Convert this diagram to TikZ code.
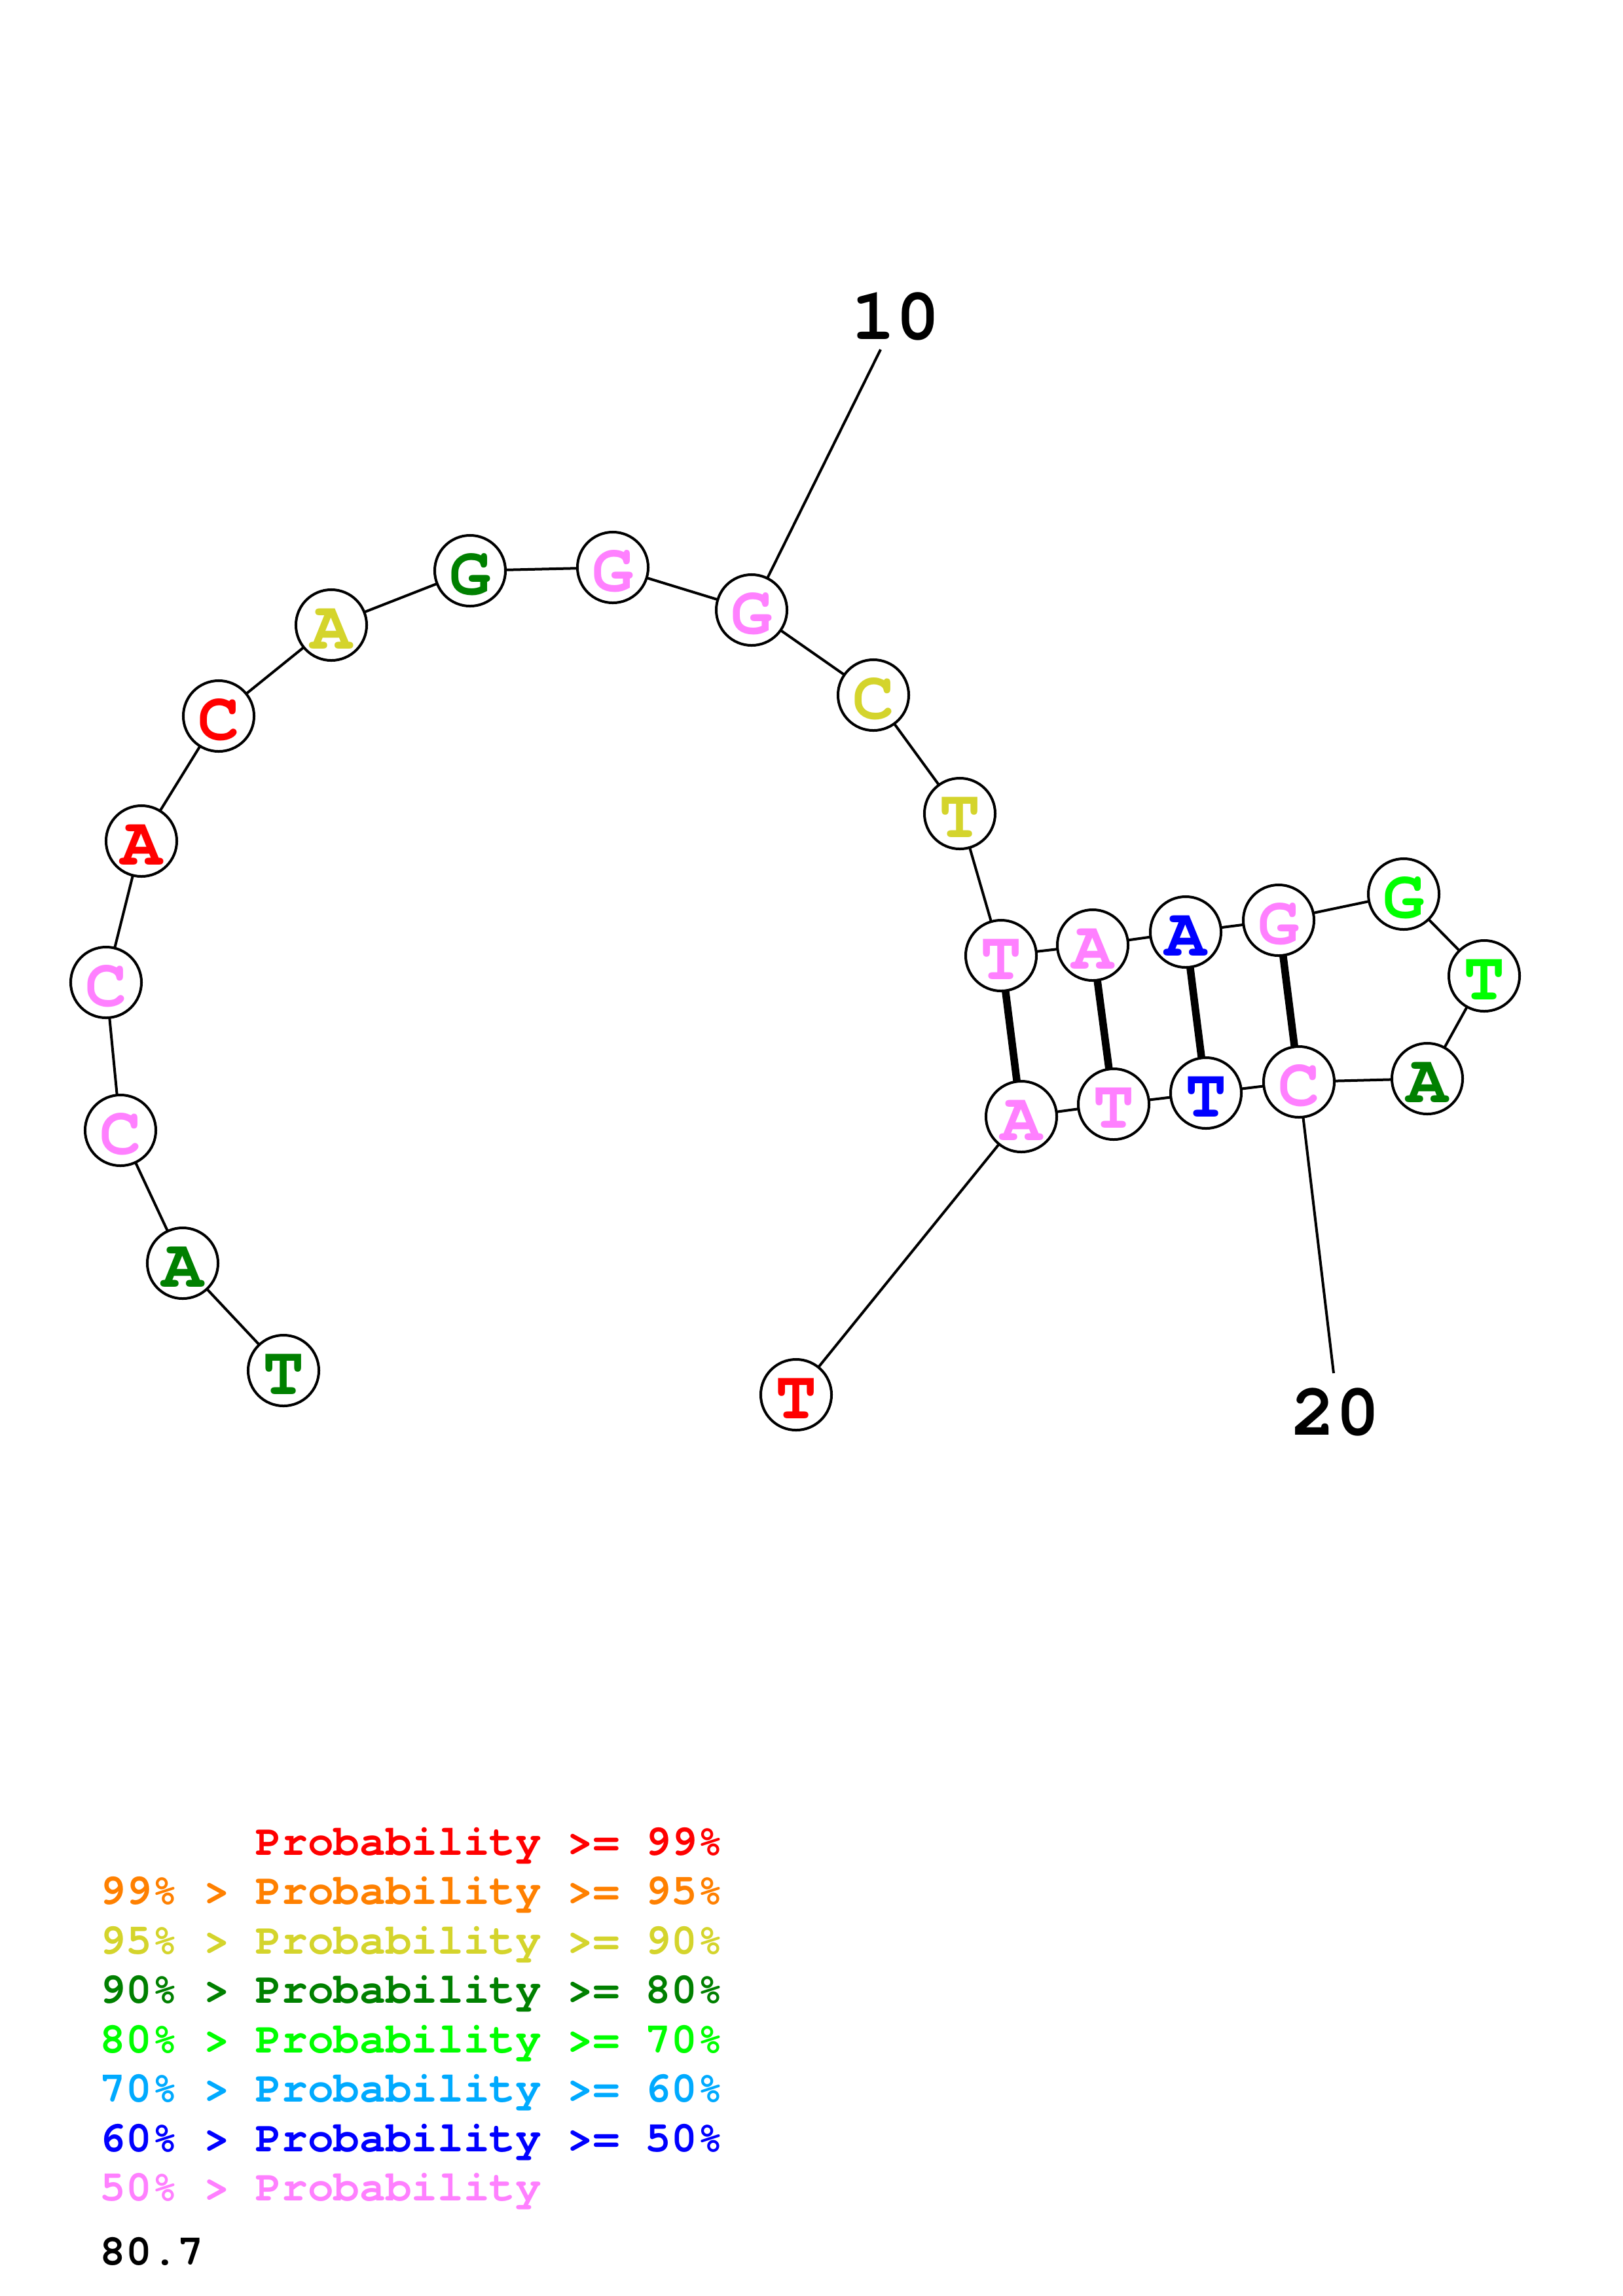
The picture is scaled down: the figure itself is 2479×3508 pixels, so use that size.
\documentclass[tikz,border=0pt]{standalone}
\usepackage{fontspec}
\newfontfamily\cour{texgyrecursor}[Extension=.otf,UprightFont=*-regular,BoldFont=*-bold]
\definecolor{cred}{RGB}{255,0,0}
\definecolor{corange}{RGB}{255,128,0}
\definecolor{cyellow}{RGB}{212,212,44}
\definecolor{cdgreen}{RGB}{0,128,0}
\definecolor{cgreen}{RGB}{0,255,0}
\definecolor{clblue}{RGB}{0,170,255}
\definecolor{cblue}{RGB}{0,0,255}
\definecolor{cpink}{RGB}{255,128,255}
\begin{document}
\begin{tikzpicture}[x=0.01cm,y=-0.01cm,
  nt/.style={circle,draw,fill=white,line width=0.04cm,minimum size=1.08cm,inner sep=0pt,outer sep=0pt,
    font=\cour\bfseries\fontsize{30}{30}\selectfont,text height=0.72cm,text depth=0pt},
  bb/.style={line width=0.04cm},
  bp/.style={line width=0.115cm},
  num/.style={font=\cour\bfseries\fontsize{32}{32}\selectfont,inner sep=0pt},
  leg/.style={font=\cour\bfseries\fontsize{18.8}{18.8}\selectfont,inner sep=0pt,anchor=base west}]
\fill[white] (0,0) rectangle (2479,3508);
\useasboundingbox (0,0) rectangle (2479,3508);
% nucleotides
\node[nt,text=cdgreen] (n1) at (433,2094) {T};
\node[nt,text=cdgreen] (n2) at (279,1930) {A};
\node[nt,text=cpink]   (n3) at (184,1727) {C};
\node[nt,text=cpink]   (n4) at (162,1501) {C};
\node[nt,text=cred]    (n5) at (216,1285) {A};
\node[nt,text=cred]    (n6) at (334,1094) {C};
\node[nt,text=cyellow] (n7) at (506,955) {A};
\node[nt,text=cdgreen] (n8) at (718,872) {G};
\node[nt,text=cpink]   (n9) at (936,867) {G};
\node[nt,text=cpink]   (n10) at (1148,932) {G};
\node[nt,text=cyellow] (n11) at (1334,1062) {C};
\node[nt,text=cyellow] (n12) at (1466,1243) {T};
\node[nt,text=cpink]   (n13) at (1529,1460) {T};
\node[nt,text=cpink]   (n14) at (1669,1444) {A};
\node[nt,text=cblue]   (n15) at (1811,1424) {A};
\node[nt,text=cpink]   (n16) at (1953,1406) {G};
\node[nt,text=cgreen]  (n17) at (2144,1366) {G};
\node[nt,text=cgreen]  (n18) at (2267,1491) {T};
\node[nt,text=cdgreen] (n19) at (2180,1648) {A};
\node[nt,text=cpink]   (n20) at (1984,1653) {C};
\node[nt,text=cblue]   (n21) at (1842,1670) {T};
\node[nt,text=cpink]   (n22) at (1701,1687) {T};
\node[nt,text=cpink]   (n23) at (1560,1706) {A};
\node[nt,text=cred]    (n24) at (1216,2131) {T};
% backbone
\foreach \a/\b in {1/2,2/3,3/4,4/5,5/6,6/7,7/8,8/9,9/10,10/11,11/12,12/13,13/14,14/15,15/16,16/17,17/18,18/19,19/20,20/21,21/22,22/23,23/24}
  \draw[bb] (n\a) -- (n\b);
% pairs
\draw[bp] (n13) -- (n23);
\draw[bp] (n14) -- (n22);
\draw[bp] (n15) -- (n21);
\draw[bp] (n16) -- (n20);
% numbering
\coordinate (t10) at (1345,534);
\coordinate (t20) at (2037,2098);
\draw[bb] (n10) -- (t10);
\draw[bb] (n20) -- (t20);
\node[num] (l10) at (1368,483) {10};
\node[num] (l20) at (2040,2157) {20};
% legend
\node[leg,text=cred]    (g1) at (390,2834) {Probability >= 99\%};
\node[leg,text=corange] (g2) at (152,2909.5) {99\% > Probability >= 95\%};
\node[leg,text=cyellow] (g3) at (152,2985) {95\% > Probability >= 90\%};
\node[leg,text=cdgreen] (g4) at (152,3060.5) {90\% > Probability >= 80\%};
\node[leg,text=cgreen]  (g5) at (152,3136) {80\% > Probability >= 70\%};
\node[leg,text=clblue]  (g6) at (152,3211.5) {70\% > Probability >= 60\%};
\node[leg,text=cblue]   (g7) at (152,3287) {60\% > Probability >= 50\%};
\node[leg,text=cpink]   (g8) at (152,3362.5) {50\% > Probability};
\node[leg,text=black]   (g9) at (152,3460) {80.7};
\end{tikzpicture}
\end{document}
